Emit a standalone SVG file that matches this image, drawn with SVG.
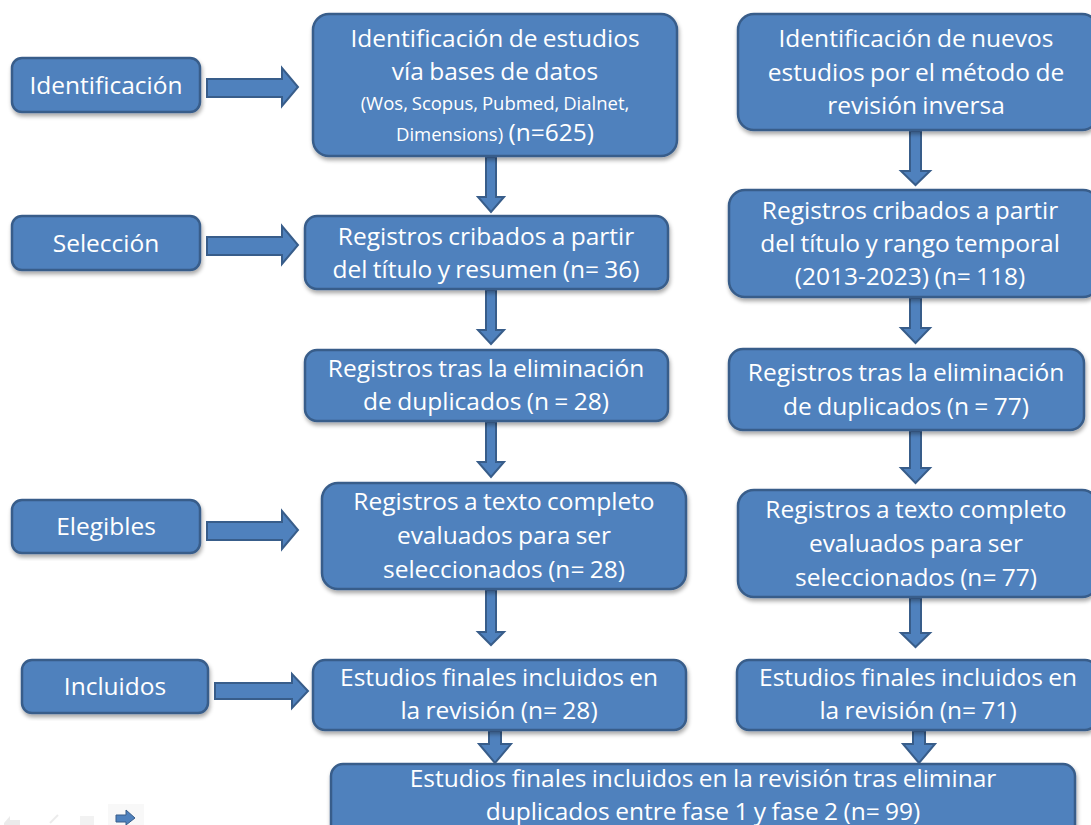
<svg xmlns="http://www.w3.org/2000/svg" width="1091" height="825" viewBox="0 0 1091 825">
  <defs>
    <filter id="shadow" x="-5%" y="-5%" width="112%" height="120%">
      <feGaussianBlur in="SourceAlpha" stdDeviation="2"/>
      <feOffset dx="1" dy="3" result="b"/>
      <feComponentTransfer><feFuncA type="linear" slope="0.35"/></feComponentTransfer>
      <feMerge><feMergeNode/><feMergeNode in="SourceGraphic"/></feMerge>
    </filter>
  </defs>
  <style>
    .box { fill: #4F81BD; stroke: #385D8A; stroke-width: 2.5; filter: url(#shadow); }
    .arr { fill: #4F81BD; stroke: #385D8A; stroke-width: 2; stroke-linejoin: miter; }
    text { font-family: "Open Sans", "Liberation Sans", sans-serif; fill: #FFFFFF; text-anchor: middle; font-size: 24.5px; font-variant-ligatures: none; word-spacing: -1px; }
    .sm { font-size: 18.5px; }
  </style>
  <rect width="1091" height="825" fill="#FFFFFF"/>

  <!-- connectors -->
  <g id="connectors">
    <!-- horizontal stage arrows -->
    <path class="arr" d="M207,79 H282 V68 L298,87 L282,106 V97 H207 Z"/>
    <path class="arr" d="M207,237 H282 V226 L298,245 L282,264 V255 H207 Z"/>
    <path class="arr" d="M207,522 H282 V511 L298,530 L282,549 V540 H207 Z"/>
    <path class="arr" d="M215,683 H292 V674 L308,691 L292,708 V699 H215 Z"/>
    <!-- left column -->
    <path class="arr" d="M486,157 H496 V197 H504 L491,212 L478,197 H486 Z"/>
    <path class="arr" d="M486,290 H496 V330 H504 L491,344 L478,330 H486 Z"/>
    <path class="arr" d="M486,422 H496 V462 H504 L491,477 L478,462 H486 Z"/>
    <path class="arr" d="M486,590 H496 V632 H504 L491,645 L478,632 H486 Z"/>
    <path class="arr" d="M489,731 H501 V744 H511 L495,763 L479,744 H489 Z"/>
    <!-- right column -->
    <path class="arr" d="M910,131 H921 V171 H930 L915.5,185 L901,171 H910 Z"/>
    <path class="arr" d="M910,298 H921 V328 H930 L915.5,343 L901,328 H910 Z"/>
    <path class="arr" d="M910,431 H921 V468 H930 L915.5,483 L901,468 H910 Z"/>
    <path class="arr" d="M910,598 H921 V633 H930 L915.5,647 L901,633 H910 Z"/>
    <path class="arr" d="M913,731 H925 V744 H935 L919,763 L903,744 H913 Z"/>
  </g>

  <!-- stage labels -->
  <g id="stage-identificacion">
    <rect class="box" x="12" y="58" width="188" height="54" rx="10"/>
    <text x="106" y="94">Identificación</text>
  </g>
  <g id="stage-seleccion">
    <rect class="box" x="12" y="216" width="188" height="54" rx="10"/>
    <text x="106" y="252">Selección</text>
  </g>
  <g id="stage-elegibles">
    <rect class="box" x="12" y="500" width="188" height="53" rx="10"/>
    <text x="106" y="535">Elegibles</text>
  </g>
  <g id="stage-incluidos">
    <rect class="box" x="22" y="660" width="186" height="53" rx="10"/>
    <text x="115" y="695">Incluidos</text>
  </g>

  <!-- phase 1 column -->
  <g id="f1-identificacion">
    <rect class="box" x="313" y="14" width="364" height="142" rx="16"/>
    <text x="495" y="47">Identificación de estudios</text>
    <text x="495" y="80">vía bases de datos</text>
    <text x="495" y="110" class="sm">(Wos, Scopus, Pubmed, Dialnet,</text>
    <text x="495" y="141"><tspan class="sm">Dimensions)</tspan> (n=625)</text>
  </g>
  <g id="f1-cribado">
    <rect class="box" x="305" y="216" width="363" height="73" rx="12"/>
    <text x="486" y="245">Registros cribados a partir</text>
    <text x="486" y="278">del título y resumen (n= 36)</text>
  </g>
  <g id="f1-duplicados">
    <rect class="box" x="305" y="350" width="363" height="71" rx="12"/>
    <text x="486" y="377">Registros tras la eliminación</text>
    <text x="486" y="410">de duplicados (n = 28)</text>
  </g>
  <g id="f1-texto-completo">
    <rect class="box" x="322" y="483" width="364" height="106" rx="16"/>
    <text x="504" y="510">Registros a texto completo</text>
    <text x="504" y="544">evaluados para ser</text>
    <text x="504" y="578">seleccionados (n= 28)</text>
  </g>
  <g id="f1-incluidos">
    <rect class="box" x="313" y="660" width="373" height="70" rx="12"/>
    <text x="499" y="686">Estudios finales incluidos en</text>
    <text x="499" y="719">la revisión (n= 28)</text>
  </g>

  <!-- phase 2 column -->
  <g id="f2-identificacion">
    <rect class="box" x="738" y="14" width="360" height="116" rx="16"/>
    <text x="916" y="47">Identificación de nuevos</text>
    <text x="916" y="81">estudios por el método de</text>
    <text x="916" y="114">revisión inversa</text>
  </g>
  <g id="f2-cribado">
    <rect class="box" x="729" y="190" width="370" height="107" rx="16"/>
    <text x="910" y="219">Registros cribados a partir</text>
    <text x="910" y="252">del título y rango temporal</text>
    <text x="910" y="285">(2013-2023) (n= 118)</text>
  </g>
  <g id="f2-duplicados">
    <rect class="box" x="729" y="349" width="355" height="81" rx="14"/>
    <text x="906" y="381">Registros tras la eliminación</text>
    <text x="906" y="415">de duplicados (n = 77)</text>
  </g>
  <g id="f2-texto-completo">
    <rect class="box" x="738" y="490" width="360" height="107" rx="16"/>
    <text x="916" y="518">Registros a texto completo</text>
    <text x="916" y="552">evaluados para ser</text>
    <text x="916" y="586">seleccionados (n= 77)</text>
  </g>
  <g id="f2-incluidos">
    <rect class="box" x="737" y="660" width="360" height="70" rx="12"/>
    <text x="918" y="686">Estudios finales incluidos en</text>
    <text x="918" y="719">la revisión (n= 71)</text>
  </g>

  <!-- combined result -->
  <g id="final">
    <rect class="box" x="331" y="764" width="744" height="80" rx="12"/>
    <text x="703" y="787">Estudios finales incluidos en la revisión tras eliminar</text>
    <text x="703" y="820">duplicados entre fase 1 y fase 2 (n= 99)</text>
  </g>

  <!-- faint slideshow controls, bottom left -->
  <g id="slide-controls" opacity="0.5">
    <path d="M4,823 L10,816 L10,820 L20,820 L20,825 L4,825 Z" fill="#D8D8D8"/>
    <path d="M50,823 L58,815" stroke="#D8D8D8" stroke-width="2"/>
    <rect x="80" y="816" width="14" height="9" fill="#E6E6E6"/>
    <rect x="108" y="804" width="36" height="21" fill="#F2F2F2"/>
  </g>
  <path d="M116,815 H126 V810 L135,818 L126,825 V822 H116 Z" fill="#4F81BD" stroke="#385D8A" stroke-width="1"/>
</svg>
